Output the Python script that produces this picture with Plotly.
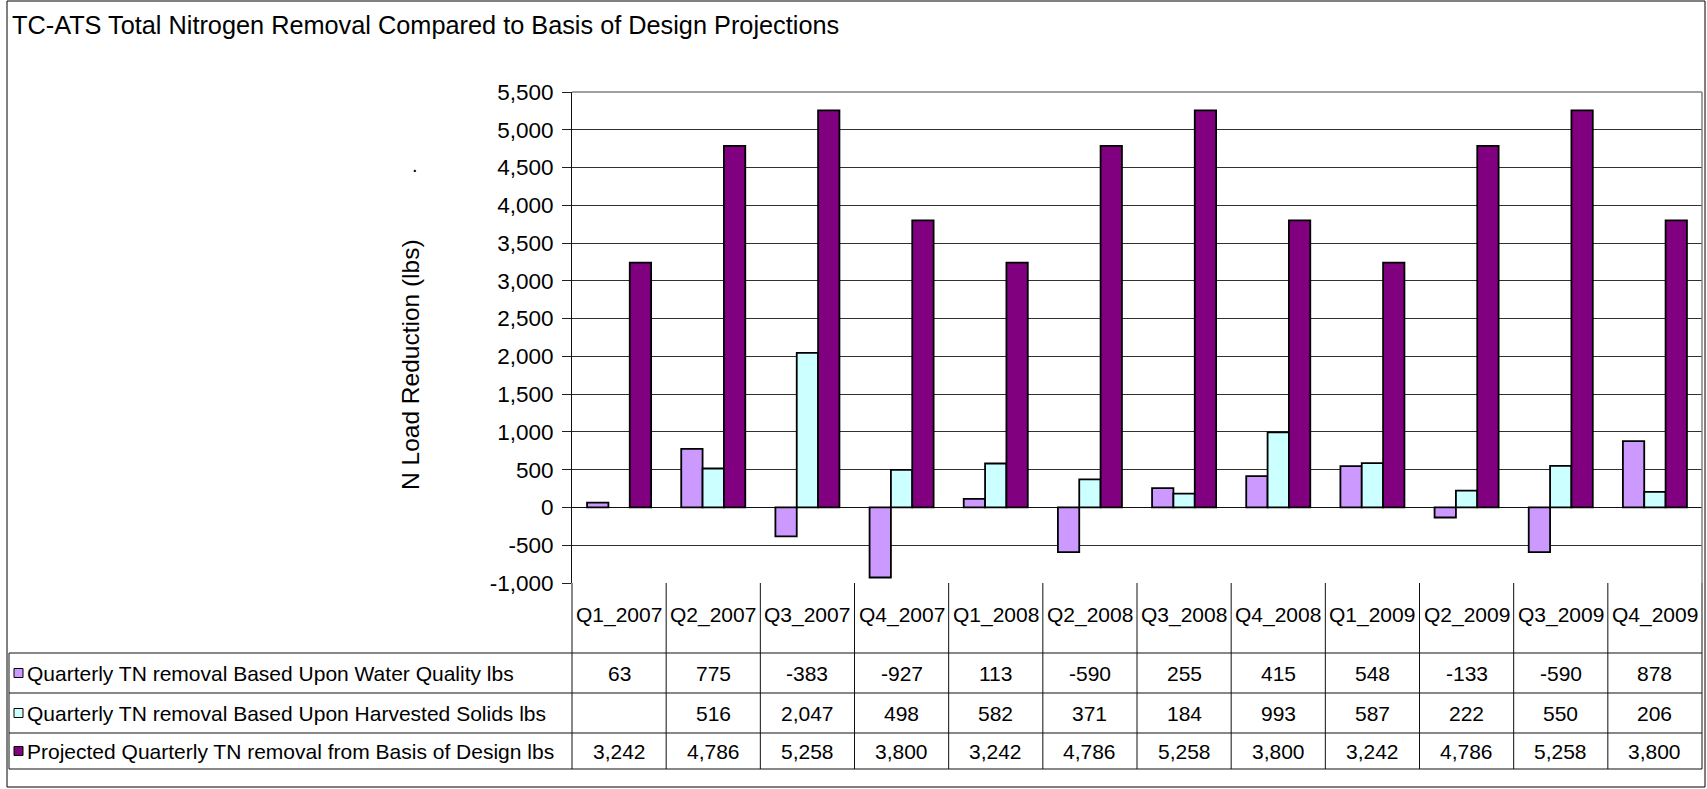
import plotly.graph_objects as go

quarters = ['Q1_2007', 'Q2_2007', 'Q3_2007', 'Q4_2007', 'Q1_2008', 'Q2_2008',
            'Q3_2008', 'Q4_2008', 'Q1_2009', 'Q2_2009', 'Q3_2009', 'Q4_2009']
water_quality_lbs = [63, 775, -383, -927, 113, -590, 255, 415, 548, -133, -590, 878]
harvested_solids_lbs = [None, 516, 2047, 498, 582, 371, 184, 993, 587, 222, 550, 206]
design_basis_lbs = [3242, 4786, 5258, 3800, 3242, 4786, 5258, 3800, 3242, 4786, 5258, 3800]
series_names = ['Quarterly TN removal Based Upon Water Quality lbs',
                'Quarterly TN removal Based Upon Harvested Solids lbs',
                'Projected Quarterly TN removal from Basis of Design lbs']
y_ticks = list(range(-1000, 5501, 500))

colors = ['#CC99FF', '#CCFFFF', '#800080']
FONT = 'Liberation Sans, Arial, sans-serif'
TABLE_SIZE = 21

# page geometry (pixels)
W, H = 1707, 789
L, R, T, B = 572, 5, 92, 206
PW, PH = W - L - R, H - T - B


def px(x):
    return (x - L) / PW


def py(y):
    return (H - B - y) / PH


fig = go.Figure()
all_series = [water_quality_lbs, harvested_solids_lbs, design_basis_lbs]
for name, vals, col in zip(series_names, all_series, colors):
    fig.add_trace(go.Bar(
        x=quarters, y=vals, name=name,
        marker=dict(color=col, line=dict(color='black', width=1.8)),
        showlegend=False
    ))

shapes = []
annotations = []
line_col = '#101010'

# plot area top / right border (gray)
shapes.append(dict(type='line', xref='paper', yref='paper', x0=0, x1=1, y0=1, y1=1,
                   line=dict(color='#808080', width=1.5), layer='above'))
shapes.append(dict(type='line', xref='paper', yref='paper', x0=1, x1=1, y0=0, y1=1,
                   line=dict(color='#808080', width=1.5), layer='above'))

# outer chart border
shapes.append(dict(type='rect', xref='paper', yref='paper',
                   x0=px(7), x1=px(1705), y0=py(787), y1=py(1),
                   line=dict(color='black', width=1)))

# data table
cat_top = 583
row_edges = [653, 693, 733, 769]
col_w = PW / len(quarters)
for k in range(len(quarters) + 1):
    xk = px(L + k * col_w)
    shapes.append(dict(type='line', xref='paper', yref='paper', x0=xk, x1=xk,
                       y0=py(cat_top), y1=py(row_edges[-1]),
                       line=dict(color=line_col, width=1)))
for ye in row_edges:
    shapes.append(dict(type='line', xref='paper', yref='paper', x0=px(9), x1=1,
                       y0=py(ye), y1=py(ye), line=dict(color=line_col, width=1)))
shapes.append(dict(type='line', xref='paper', yref='paper', x0=px(9), x1=px(9),
                   y0=py(row_edges[0]), y1=py(row_edges[-1]),
                   line=dict(color=line_col, width=1)))

# category labels
for i, q in enumerate(quarters):
    annotations.append(dict(text=q, xref='paper', yref='paper',
                            x=px(L + (i + 0.5) * col_w), y=py(615),
                            xanchor='center', yanchor='middle', showarrow=False,
                            font=dict(size=TABLE_SIZE, color='black', family=FONT)))

# series rows
for r, (name, vals, col) in enumerate(zip(series_names, all_series, colors)):
    y0, y1 = row_edges[r], row_edges[r + 1]
    yc = (y0 + y1) / 2
    shapes.append(dict(type='rect', xref='paper', yref='paper',
                       x0=px(14), x1=px(23), y0=py(yc + 4.5), y1=py(yc - 4.5),
                       fillcolor=col, line=dict(color='black', width=1)))
    annotations.append(dict(text=name, xref='paper', yref='paper',
                            x=px(25), y=py(yc), xanchor='left', yanchor='middle',
                            showarrow=False,
                            font=dict(size=TABLE_SIZE, color='black', family=FONT)))
    for i, v in enumerate(vals):
        if v is None:
            continue
        annotations.append(dict(text=f'{v:,}', xref='paper', yref='paper',
                                x=px(L + (i + 0.5) * col_w), y=py(yc),
                                xanchor='center', yanchor='middle', showarrow=False,
                                font=dict(size=TABLE_SIZE, color='black', family=FONT)))

# title, axis title and the stray dot
annotations.append(dict(text='TC-ATS Total Nitrogen Removal Compared to Basis of Design Projections',
                        xref='paper', yref='paper', x=px(10), y=py(25),
                        xanchor='left', yanchor='middle', showarrow=False,
                        font=dict(size=25.3, color='black', family=FONT)))
annotations.append(dict(text='N Load Reduction (lbs)', xref='paper', yref='paper',
                        x=px(410), y=py(365), textangle=-90,
                        xanchor='center', yanchor='middle', showarrow=False,
                        font=dict(size=24.5, color='black', family=FONT)))
annotations.append(dict(text='.', xref='paper', yref='paper', x=px(415), y=py(165),
                        xanchor='center', yanchor='middle', showarrow=False,
                        font=dict(size=20, color='black', family=FONT)))

fig.update_layout(
    width=W, height=H,
    margin=dict(l=L, r=R, t=T, b=B, pad=0),
    paper_bgcolor='white', plot_bgcolor='white',
    barmode='group', bargap=0.32, bargroupgap=0,
    xaxis=dict(type='category', range=[-0.5, len(quarters) - 0.5],
               showticklabels=False, showgrid=False, ticks='', showline=False,
               zeroline=False),
    yaxis=dict(range=[-1000, 5500], tickvals=y_ticks,
               ticktext=[f'{v:,}' for v in y_ticks],
               showgrid=True, gridcolor='#303030', gridwidth=1,
               zeroline=True, zerolinecolor='#101010', zerolinewidth=1,
               showline=True, linecolor='#101010', linewidth=1,
               ticks='outside', ticklen=9, tickcolor='#202020',
               ticklabelstandoff=4,
               tickfont=dict(size=22.5, color='black', family=FONT)),
    shapes=shapes,
    annotations=annotations,
    showlegend=False
)

fig.write_html('out.html', config={'displayModeBar': False},
               post_script="document.body.style.margin='0';")
